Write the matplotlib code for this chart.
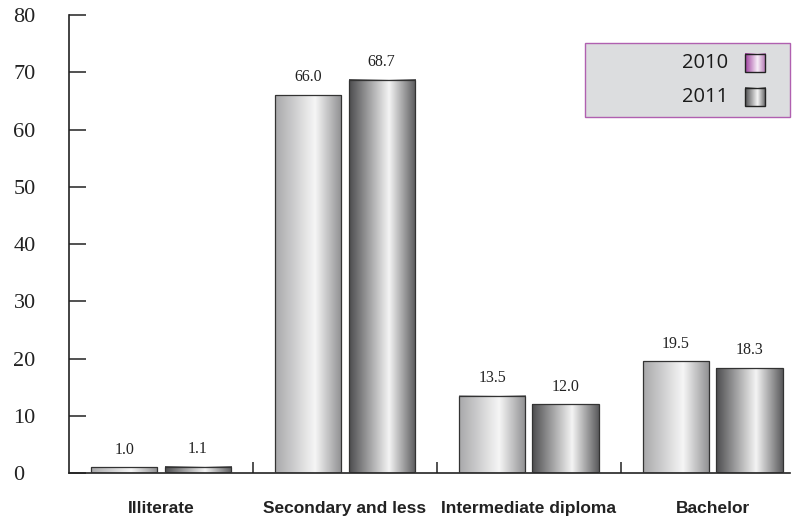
import matplotlib.pyplot as plt
import numpy as np
from matplotlib.colors import LinearSegmentedColormap
from matplotlib.patches import Rectangle

categories = ['Illiterate', 'Secondary and less', 'Intermediate diploma', 'Bachelor']
vals_2010 = [1.0, 66.0, 13.5, 19.5]
vals_2011 = [1.1, 68.7, 12.0, 18.3]
years = ['2010', '2011']
yticks = [0, 10, 20, 30, 40, 50, 60, 70, 80]

cm_light = LinearSegmentedColormap.from_list('l', [(0, '#a8a8aa'), (0.6, '#f6f6f6'), (1, '#8e8e90')])
cm_dark = LinearSegmentedColormap.from_list('d', [(0, '#4c4c4e'), (0.6, '#f4f4f4'), (1, '#5a5a5c')])
cm_purple = LinearSegmentedColormap.from_list('p', [(0, '#9c3c9c'), (0.6, '#f8eef8'), (1, '#b070b0')])
grad = np.linspace(0, 1, 256).reshape(1, -1)

fig = plt.figure(figsize=(7.97, 5.19), dpi=100)
ax = fig.add_axes([0.0866, 0.0886, 0.9046, 0.8825])

w = 0.36
x = np.arange(len(categories)) + 0.5
for vals, off, cm in [(vals_2010, -0.2, cm_light), (vals_2011, 0.2, cm_dark)]:
    for xi, v in zip(x, vals):
        x0 = xi + off - w / 2
        ax.imshow(grad, cmap=cm, extent=[x0, x0 + w, 0, v], aspect='auto', zorder=2)
        ax.add_patch(Rectangle((x0, 0), w, v, fill=False, ec='#333333', lw=0.9, zorder=3))
        ax.text(xi + off, v + 3.1, f'{v:.1f}', ha='center', va='center',
                fontsize=11.5, family='Liberation Serif', color='#222222')

ax.set_xlim(0, 3.92)
ax.set_ylim(0, 80)
for s in ['top', 'right']:
    ax.spines[s].set_visible(False)
for s in ['left', 'bottom']:
    ax.spines[s].set_linewidth(1.2)
    ax.spines[s].set_color('#222222')

ax.set_yticks(yticks)
ax.set_yticklabels([str(t) for t in yticks], family='Liberation Serif', fontsize=16, color='#222222')
for lab in ax.get_yticklabels():
    lab.set_horizontalalignment('left')
ax.tick_params(axis='y', direction='in', length=12.5, width=1.1, color='#222222', pad=40)

ax.set_xticks([1, 2, 3])
ax.set_xticklabels([])
ax.tick_params(axis='x', direction='in', length=8, width=1.1, color='#222222')
for xi, c in zip(x, categories):
    ax.text(xi, -6.2, c, ha='center', va='center', fontsize=12.5, fontweight='bold',
            family='Liberation Sans', color='#222222')

# legend box
ax.add_patch(Rectangle((0.716, 0.777), 0.284, 0.162, transform=ax.transAxes,
                       fc='#dcdddf', ec='#b060b0', lw=1.0, zorder=4, clip_on=False))
for i, (yr, cm) in enumerate(zip(years, [cm_purple, cm_dark])):
    yc = 0.895 - i * 0.074
    ax.text(0.914, yc, yr, transform=ax.transAxes, ha='right', va='center',
            fontsize=14.5, family='Open Sans', color='#1a1a1a', zorder=5)
    ax.imshow(grad, cmap=cm, extent=[0.937, 0.966, yc - 0.02, yc + 0.02],
              transform=ax.transAxes, aspect='auto', zorder=5, clip_on=False)
    ax.add_patch(Rectangle((0.937, yc - 0.02), 0.029, 0.04, transform=ax.transAxes,
                           fill=False, ec='#222222', lw=1.0, zorder=6, clip_on=False))

ax.set_xlim(0, 3.92)
ax.set_ylim(0, 80)
fig.savefig('out.png', dpi=100)
